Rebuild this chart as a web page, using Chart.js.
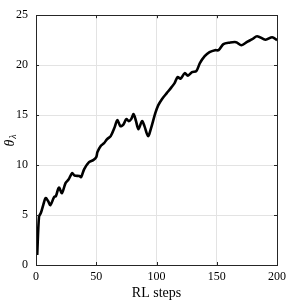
<!DOCTYPE html>
<html>
<head>
<meta charset="utf-8">
<script src="https://cdn.jsdelivr.net/npm/chart.js@4"></script>
<style>
  html, body { margin: 0; padding: 0; background: #fff; }
  #wrap { width: 291px; height: 302px; }
</style>
</head>
<body>
<div id="wrap"><canvas id="ThetaChart" width="291" height="302"></canvas></div>
<script>
// values
const steps = [1, 2.5, 4, 6, 8, 10, 12, 15, 16.5, 19, 21.5, 24.5, 27, 30, 32, 36, 37.5, 40, 44, 47.5,
  50, 51, 54, 56.5, 59, 62, 65, 67.5, 70, 72.5, 75, 77, 79, 81, 83, 85, 88, 90, 93, 95.5,
  99, 101.5, 104.5, 108.5, 112.5, 115, 117.5, 120, 123.5, 126, 129.5, 133, 136, 140, 144, 148.5, 151.5, 155.5, 160.5, 166,
  170.5, 175.5, 179.5, 183.5, 190.5, 196, 200];
const theta = [1.0, 4.85, 5.2, 6.0, 6.7, 6.4, 6.0, 6.8, 6.9, 7.75, 7.2, 8.2, 8.55, 9.2, 8.95, 8.9, 8.8, 9.6, 10.3, 10.5,
  10.8, 11.3, 11.95, 12.2, 12.6, 12.9, 13.7, 14.5, 13.9, 14.05, 14.6, 14.4, 14.6, 15.1, 14.4, 13.6, 14.4, 13.9, 12.9, 13.7,
  15.2, 16.0, 16.6, 17.2, 17.8, 18.2, 18.8, 18.65, 19.2, 18.95, 19.3, 19.4, 20.2, 20.9, 21.3, 21.5, 21.5, 22.1, 22.25, 22.3,
  22.0, 22.35, 22.6, 22.9, 22.55, 22.8, 22.5];
const xTicks = [0, 50, 100, 150, 200];
const yTicks = [0, 5, 10, 15, 20, 25];

const FONT = "'Liberation Serif', 'DejaVu Serif', serif";

// box around the axes, inward ticks, y label with subscript
const boxPlugin = {
  id: 'box',
  afterDraw(chart) {
    const { ctx, chartArea: a, scales } = chart;
    ctx.save();
    ctx.strokeStyle = '#262626';
    ctx.lineWidth = 1;
    ctx.beginPath();
    xTicks.forEach(v => {
      const px = Math.round(scales.x.getPixelForValue(v)) + 0.5;
      ctx.moveTo(px, a.bottom); ctx.lineTo(px, a.bottom - 3);
      ctx.moveTo(px, a.top); ctx.lineTo(px, a.top + 3);
    });
    yTicks.forEach(v => {
      const py = Math.round(scales.y.getPixelForValue(v)) + 0.5;
      ctx.moveTo(a.left, py); ctx.lineTo(a.left + 3, py);
      ctx.moveTo(a.right, py); ctx.lineTo(a.right - 3, py);
    });
    ctx.stroke();
    ctx.strokeRect(Math.round(a.left) + 0.5, Math.round(a.top) + 0.5,
      Math.round(a.right - a.left), Math.round(a.bottom - a.top));

    // y title: theta with lambda subscript
    ctx.translate(10, (a.top + a.bottom) / 2);
    ctx.rotate(-Math.PI / 2);
    ctx.fillStyle = '#000';
    ctx.textBaseline = 'middle';
    ctx.font = 'italic 14px ' + FONT;
    const w = ctx.measureText('\u03b8').width;
    ctx.fillText('\u03b8', -w / 2 - 3, 0);
    ctx.font = 'italic 10px ' + FONT;
    ctx.fillText('\u03bb', w / 2 - 2, 3);
    ctx.restore();
  }
};

const ctx = document.getElementById('ThetaChart').getContext('2d');

new Chart(ctx, {
  type: 'line',
  data: {
    labels: steps,
    datasets: [{
      data: steps.map((s, i) => ({ x: s, y: theta[i] })),
      borderColor: '#000',
      borderWidth: 2.6,
      pointRadius: 0,
      tension: 0.3,
      fill: false
    }]
  },
  options: {
    responsive: false,
    animation: false,
    layout: { padding: { top: 7, right: 11, left: 0, bottom: 0 } },
    plugins: { legend: { display: false }, tooltip: { enabled: false } },
    scales: {
      x: {
        type: 'linear',
        min: 0, max: 200,
        afterBuildTicks: s => { s.ticks = xTicks.map(v => ({ value: v })); },
        afterFit: s => { s.height = 37; },
        grid: { color: '#e3e3e3', drawTicks: false },
        border: { display: false },
        ticks: { color: '#000', padding: 5, maxRotation: 0, font: { family: FONT, size: 12 } },
        title: {
          display: true, text: 'RL steps', color: '#000',
          padding: { top: 1, bottom: 0 },
          font: { family: FONT, size: 14 }
        }
      },
      y: {
        min: 0, max: 25,
        afterBuildTicks: s => { s.ticks = yTicks.map(v => ({ value: v })); },
        afterFit: s => { s.width = 36; },
        grid: { color: '#e3e3e3', drawTicks: false },
        border: { display: false },
        ticks: { color: '#000', padding: 8, font: { family: FONT, size: 12 } }
      }
    }
  },
  plugins: [boxPlugin]
});
</script>
</body>
</html>
